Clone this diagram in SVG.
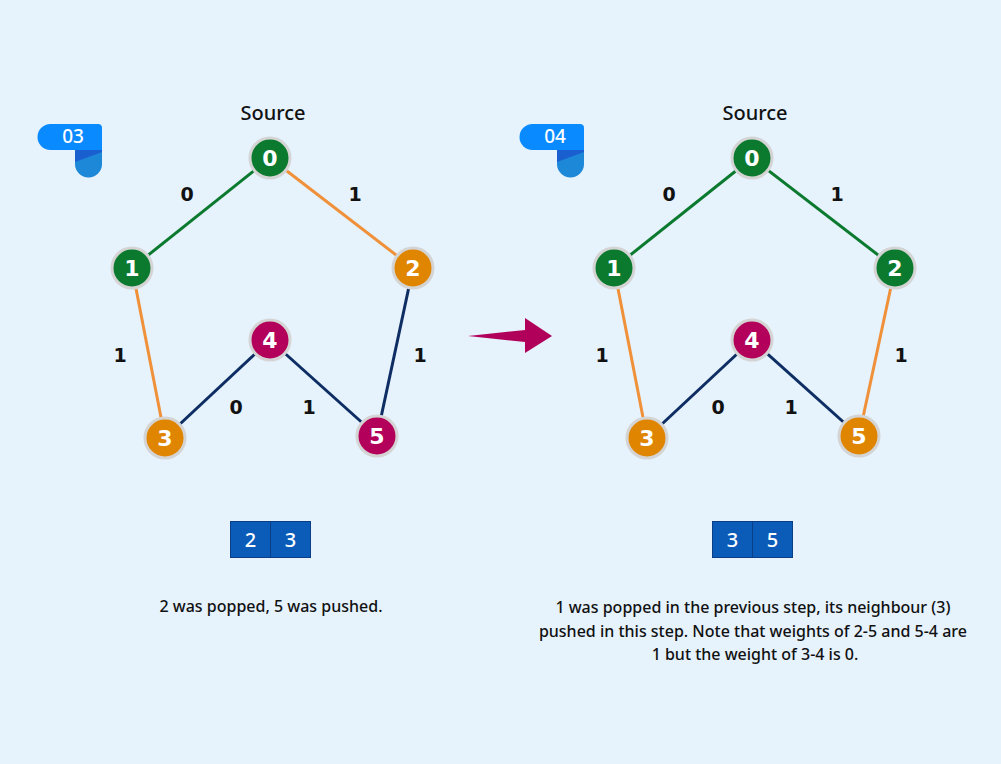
<svg xmlns="http://www.w3.org/2000/svg" width="1001" height="764" viewBox="0 0 1001 764">
<style>
.n circle{stroke:#d4d4d4;stroke-width:3}
.g{fill:#0b7a2f}.o{fill:#e08500}.m{fill:#b3005a}
.nl{font-family:"DejaVu Sans",sans-serif;font-weight:bold;font-size:22px;fill:#fff;text-anchor:middle}
.el{font-family:"DejaVu Sans",sans-serif;font-weight:bold;font-size:19px;fill:#111;text-anchor:middle}
.e{stroke-width:3;fill:none}
.eg{stroke:#0b7a2f}.eo{stroke:#f0913a}.en{stroke:#0d2d63}
.t{font-family:"Noto Sans","Open Sans",sans-serif;font-weight:500;fill:#111;text-anchor:middle}
.q{fill:#0a5cb8;stroke:#0a3f86;stroke-width:1}
.ql{font-family:"Noto Sans","Open Sans",sans-serif;font-weight:500;font-size:20px;fill:#fff;text-anchor:middle}
.bt{font-family:"Noto Sans","Open Sans",sans-serif;font-weight:500;font-size:19px;fill:#fff;text-anchor:middle}
</style>
<rect width="1001" height="764" fill="#e6f2fc"/>

<!-- badges -->
<g id="badge03">
<path d="M75 136 H102 V164 A13.5 13.5 0 0 1 75 164 Z" fill="#1e88d8"/>
<path d="M75 148 L102 148 L102 152 L75 162 Z" fill="#1a5fd0"/>
<path d="M50.5 124 H98 A4 4 0 0 1 102 128 V150 H50.5 A13 13 0 0 1 50.5 124 Z" fill="#0a8aff"/>
<text class="bt" x="73" y="143">03</text>
</g>
<g id="badge04">
<path d="M557 136 H584 V164 A13.5 13.5 0 0 1 557 164 Z" fill="#1e88d8"/>
<path d="M557 148 L584 148 L584 152 L557 162 Z" fill="#1a5fd0"/>
<path d="M532.5 124 H580 A4 4 0 0 1 584 128 V150 H532.5 A13 13 0 0 1 532.5 124 Z" fill="#0a8aff"/>
<text class="bt" x="555" y="143">04</text>
</g>

<text class="t" x="273" y="120" font-size="20">Source</text>
<text class="t" x="755" y="120" font-size="20">Source</text>

<!-- connectors -->
<g id="connectors">
<line class="e eg" x1="270" y1="158" x2="132" y2="268"/>
<line class="e eo" x1="270" y1="158" x2="413" y2="268"/>
<line class="e eo" x1="132" y1="268" x2="165" y2="438"/>
<line class="e en" x1="413" y1="268" x2="377" y2="436"/>
<line class="e en" x1="270" y1="340" x2="165" y2="438"/>
<line class="e en" x1="270" y1="340" x2="377" y2="436"/>

<line class="e eg" x1="752" y1="158" x2="614" y2="268"/>
<line class="e eg" x1="752" y1="158" x2="895" y2="268"/>
<line class="e eo" x1="614" y1="268" x2="647" y2="438"/>
<line class="e eo" x1="895" y1="268" x2="859" y2="436"/>
<line class="e en" x1="752" y1="340" x2="647" y2="438"/>
<line class="e en" x1="752" y1="340" x2="859" y2="436"/>

<path d="M468 336 L525 330 L525 318 L552 336 L525 353 L525 342 Z" fill="#b0005a"/>
</g>

<g id="edge-labels">
<text class="el" x="187" y="201">0</text>
<text class="el" x="355" y="201">1</text>
<text class="el" x="120" y="362">1</text>
<text class="el" x="420" y="362">1</text>
<text class="el" x="236" y="414">0</text>
<text class="el" x="309" y="414">1</text>
<text class="el" x="669" y="201">0</text>
<text class="el" x="837" y="201">1</text>
<text class="el" x="602" y="362">1</text>
<text class="el" x="901" y="362">1</text>
<text class="el" x="718" y="414">0</text>
<text class="el" x="791" y="414">1</text>
</g>

<!-- left nodes -->
<g id="L0" class="n"><circle class="g" cx="270" cy="158" r="20"/><text class="nl" x="270" y="166">0</text></g>
<g id="L1" class="n"><circle class="g" cx="132" cy="268" r="20"/><text class="nl" x="132" y="276">1</text></g>
<g id="L2" class="n"><circle class="o" cx="413" cy="268" r="20"/><text class="nl" x="413" y="276">2</text></g>
<g id="L3" class="n"><circle class="o" cx="165" cy="438" r="20"/><text class="nl" x="165" y="446">3</text></g>
<g id="L4" class="n"><circle class="m" cx="270" cy="340" r="20"/><text class="nl" x="270" y="348">4</text></g>
<g id="L5" class="n"><circle class="m" cx="377" cy="436" r="20"/><text class="nl" x="377" y="444">5</text></g>

<!-- right nodes -->
<g id="R0" class="n"><circle class="g" cx="752" cy="158" r="20"/><text class="nl" x="752" y="166">0</text></g>
<g id="R1" class="n"><circle class="g" cx="614" cy="268" r="20"/><text class="nl" x="614" y="276">1</text></g>
<g id="R2" class="n"><circle class="g" cx="895" cy="268" r="20"/><text class="nl" x="895" y="276">2</text></g>
<g id="R3" class="n"><circle class="o" cx="647" cy="438" r="20"/><text class="nl" x="647" y="446">3</text></g>
<g id="R4" class="n"><circle class="m" cx="752" cy="340" r="20"/><text class="nl" x="752" y="348">4</text></g>
<g id="R5" class="n"><circle class="o" cx="859" cy="436" r="20"/><text class="nl" x="859" y="444">5</text></g>

<!-- queues -->
<g id="queueL">
<rect class="q" x="230.5" y="521.5" width="40" height="36"/>
<rect class="q" x="270.5" y="521.5" width="40" height="36"/>
<text class="ql" x="250.5" y="547">2</text>
<text class="ql" x="290.5" y="547">3</text>
</g>
<g id="queueR">
<rect class="q" x="712.5" y="521.5" width="40" height="36"/>
<rect class="q" x="752.5" y="521.5" width="40" height="36"/>
<text class="ql" x="732.5" y="547">3</text>
<text class="ql" x="772.5" y="547">5</text>
</g>

<text class="t" x="271" y="612" font-size="16">2 was popped, 5 was pushed.</text>
<text class="t" font-size="16">
<tspan x="755" y="613">1 was popped in the previous step, its neighbour (3)</tspan>
<tspan x="755" y="637">pushed in this step. Note that weights of 2-5 and 5-4 are</tspan>
<tspan x="755" y="660">1 but the weight of 3-4 is 0.</tspan>
</text>
</svg>
